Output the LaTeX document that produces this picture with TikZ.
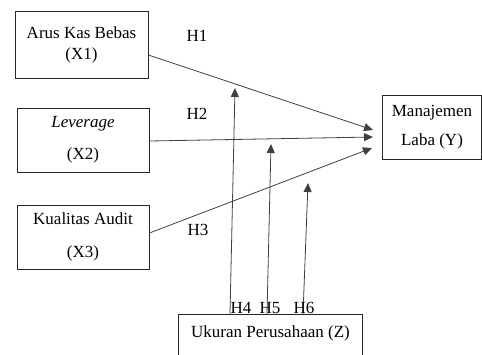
\documentclass[tikz,border=0pt]{standalone}
\usepackage{fontspec}
\setmainfont{Liberation Serif}
\usetikzlibrary{arrows.meta}
\begin{document}
\begin{tikzpicture}[x=1pt,y=-1pt,
  box/.style={draw=black!85,line width=0.9pt,inner sep=0pt,align=center,font=\fontsize{17}{21}\selectfont},
  conn/.style={draw=black!75,line width=0.8pt,-{Triangle[length=9pt,width=8pt]}},
  hlab/.style={font=\fontsize{17}{21}\selectfont,anchor=base,inner sep=0pt}]
\useasboundingbox (0,0) rectangle (482,354);
\clip (0,0) rectangle (482,354);
\node[box,minimum width=133pt,minimum height=67pt] (X1) at (81.5,44.5) {Arus Kas Bebas\\(X1)};
\node[box,minimum width=132pt,minimum height=64pt] (X2) at (83,140) {\textit{Leverage}\\[11pt](X2)};
\node[box,minimum width=132pt,minimum height=64pt] (X3) at (83,237) {Kualitas Audit\\[12pt](X3)};
\node[box,minimum width=99pt,minimum height=64pt] (Y) at (432,127.5) {Manajemen\\[8pt]Laba (Y)};
\node[box,draw=none,minimum width=183pt,minimum height=38pt,anchor=north] (Z) at (270.5,314) {Ukuran Perusahaan (Z)};
\draw[black!85,line width=0.9pt] ([yshift=-20pt]Z.south west) -- (Z.north west) -- (Z.north east) -- ([yshift=-20pt]Z.south east);
\coordinate (t1) at (373,130);
\coordinate (t2) at (373,137);
\coordinate (t3) at (372,148);
\coordinate (t4) at (235,88);
\coordinate (t5) at (271,144);
\coordinate (t6) at (308,183);
\draw[conn] ([yshift=-10.5pt]X1.east) -- (t1);
\draw[conn] ([yshift=-1pt]X2.east) -- (t2);
\draw[conn] ([yshift=4pt]X3.east) -- (t3);
\draw[conn] ([xshift=-40.5pt]Z.north) -- (t4);
\draw[conn] ([xshift=-3.5pt]Z.north) -- (t5);
\draw[conn] ([xshift=32.5pt]Z.north) -- (t6);
\node[hlab] (H1) at (197,41) {H1};
\node[hlab] (H2) at (197,119) {H2};
\node[hlab] (H3) at (198,235) {H3};
\node[hlab] (H4) at (241,313) {H4};
\node[hlab] (H5) at (270,313) {H5};
\node[hlab] (H6) at (304,313) {H6};
\end{tikzpicture}
\end{document}
